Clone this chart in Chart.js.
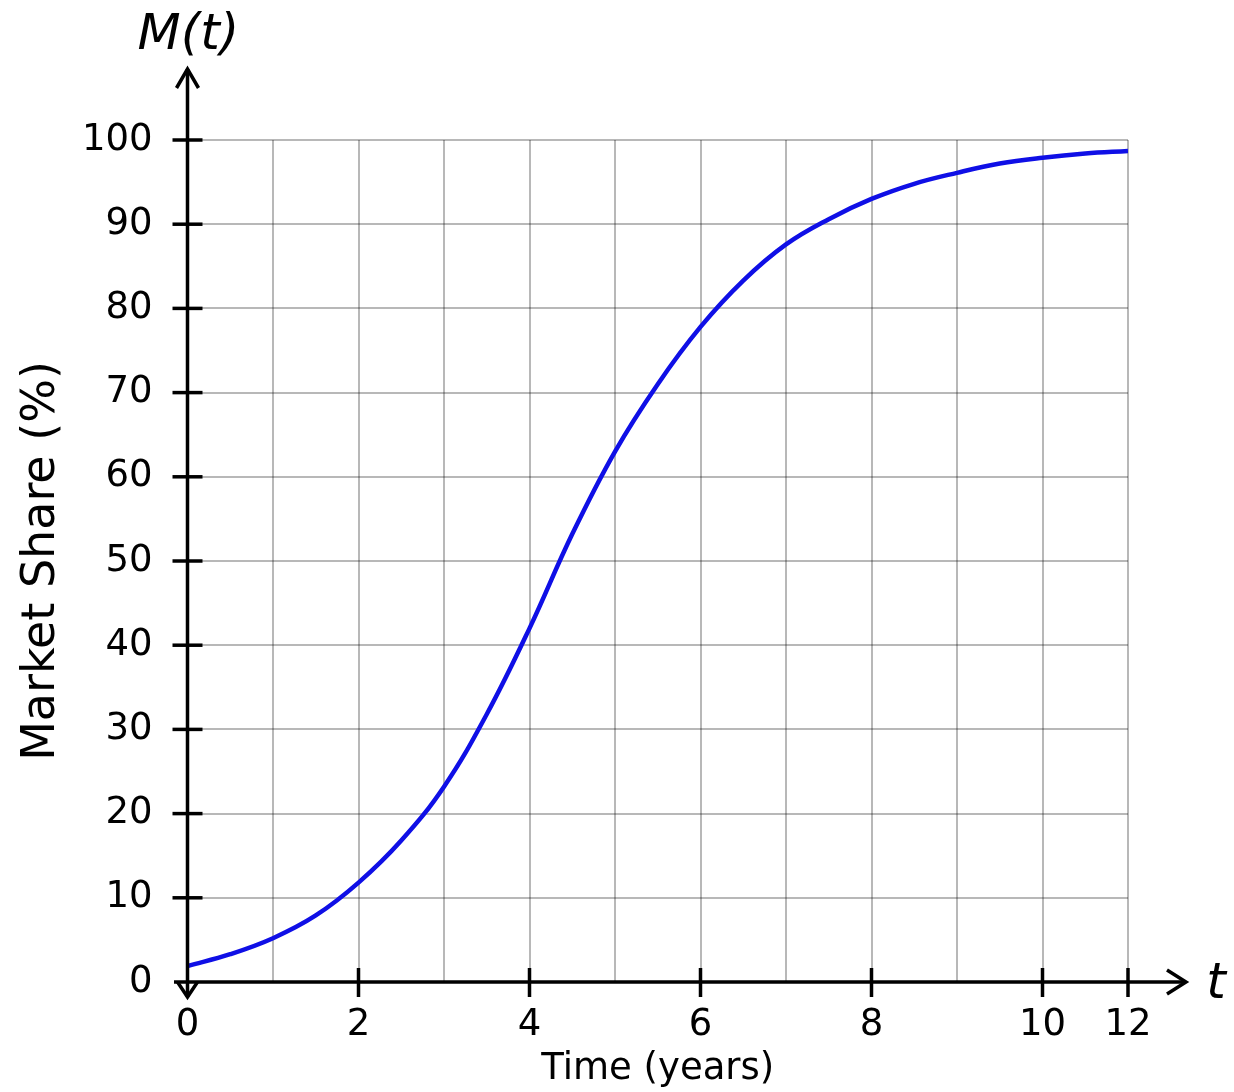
<!DOCTYPE html>
<html lang="en">
<head>
    <meta charset="UTF-8">
    <script src="https://cdn.jsdelivr.net/npm/chart.js"></script>
    <title>Market Share</title>
    <style>
        body { margin: 0; background: #fff; }
    </style>
</head>
<body>
    <canvas id="myChart" width="1234" height="1092"></canvas>
</body>

<script>
    // grid columns of the picture: the last column carries the label 12
    const xCols = [0, 0.5, 1, 1.5, 2, 2.5, 3, 3.5, 4, 4.5, 5, 5.5,
                   6, 6.5, 7, 7.5, 8, 8.5, 9, 9.5, 10, 10.5, 11];
    const marketShare = [1.9, 3.3, 5.2, 7.9, 11.8, 16.8, 23.2, 31.8, 42.0, 53.2, 63.0, 71.0,
                         77.8, 83.3, 87.6, 90.6, 93.0, 94.8, 96.1, 97.2, 97.9, 98.4, 98.7];
    const xTickLabels = ['0', '', '2', '', '4', '', '6', '', '8', '', '10', '12'];
    const yTicks = [0, 10, 20, 30, 40, 50, 60, 70, 80, 90, 100];

    const font = "'DejaVu Sans', sans-serif";

    // axes with arrows and crossing tick marks
    const axesPlugin = {
        id: 'axes',
        afterDraw(chart) {
            const ctx = chart.ctx;
            const xs = chart.scales.x, ys = chart.scales.y;
            const x0 = xs.getPixelForValue(0);
            const y0 = ys.getPixelForValue(0);
            ctx.save();
            ctx.strokeStyle = '#000';
            ctx.lineWidth = 3.5;
            ctx.lineCap = 'butt';

            // y axis
            ctx.beginPath();
            ctx.moveTo(x0, 997);
            ctx.lineTo(x0, 69);
            ctx.stroke();
            ctx.beginPath();
            ctx.moveTo(x0 - 11, 88);
            ctx.lineTo(x0, 69);
            ctx.lineTo(x0 + 11, 88);
            ctx.stroke();
            ctx.beginPath();
            ctx.moveTo(x0 - 10, 982);
            ctx.lineTo(x0, 997);
            ctx.lineTo(x0 + 10, 982);
            ctx.stroke();

            // x axis
            ctx.beginPath();
            ctx.moveTo(174, y0);
            ctx.lineTo(1186, y0);
            ctx.stroke();
            ctx.beginPath();
            ctx.moveTo(1167, y0 - 12);
            ctx.lineTo(1186, y0);
            ctx.lineTo(1167, y0 + 12);
            ctx.stroke();

            // tick marks
            yTicks.forEach(v => {
                if (v === 0) return;
                const py = ys.getPixelForValue(v);
                ctx.beginPath();
                ctx.moveTo(x0 - 15, py);
                ctx.lineTo(x0 + 15, py);
                ctx.stroke();
            });
            xTickLabels.forEach((lab, i) => {
                if (lab === '' || i === 0) return;
                const px = xs.getPixelForValue(i);
                ctx.beginPath();
                ctx.moveTo(px, y0 - 14);
                ctx.lineTo(px, y0 + 15);
                ctx.stroke();
            });

            // axis names
            ctx.fillStyle = '#000';
            ctx.font = "italic 50px 'DejaVu Sans', sans-serif";
            ctx.textAlign = 'center';
            ctx.textBaseline = 'middle';
            ctx.fillText('M(t)', x0 + 1, 36);
            ctx.fillText('t', 1216, y0 + 3);
            ctx.restore();
        }
    };

    const ctx = document.getElementById('myChart');

    new Chart(ctx, {
        type: 'line',
        data: {
            datasets: [{
                label: 'M(t)',
                data: xCols.map((c, i) => ({ x: c, y: marketShare[i] })),
                borderColor: 'rgb(15, 15, 230)',
                borderWidth: 4.5,
                pointRadius: 0,
                tension: 0.4,
                fill: false
            }]
        },
        options: {
            responsive: false,
            animation: false,
            layout: { padding: { left: 0, top: 140, right: 106, bottom: 0 } },
            plugins: {
                legend: { display: false },
                tooltip: { enabled: false }
            },
            scales: {
                x: {
                    type: 'linear',
                    min: 0,
                    max: 11,
                    afterFit: (scale) => { scale.height = 110; },
                    border: { display: false },
                    grid: { color: 'rgba(0,0,0,0.28)', lineWidth: 2, drawTicks: false },
                    ticks: {
                        stepSize: 1,
                        autoSkip: false,
                        maxRotation: 0,
                        padding: 21,
                        color: '#000',
                        font: { family: font, size: 37 },
                        callback: (value) => xTickLabels[value] ?? ''
                    },
                    title: {
                        display: true,
                        text: 'Time (years)',
                        color: '#000',
                        font: { family: font, size: 37 },
                        padding: { top: 0, bottom: 0 }
                    }
                },
                y: {
                    min: 0,
                    max: 100,
                    afterFit: (scale) => { scale.width = 187.5; },
                    border: { display: false },
                    grid: { color: 'rgba(0,0,0,0.28)', lineWidth: 2, drawTicks: false },
                    ticks: {
                        stepSize: 10,
                        padding: 35,
                        color: '#000',
                        font: { family: font, size: 37 }
                    },
                    title: {
                        display: true,
                        text: 'Market Share (%)',
                        color: '#000',
                        font: { family: font, size: 46 },
                        padding: { top: 14, bottom: 0 }
                    }
                }
            }
        },
        plugins: [axesPlugin]
    });
</script>
</html>
